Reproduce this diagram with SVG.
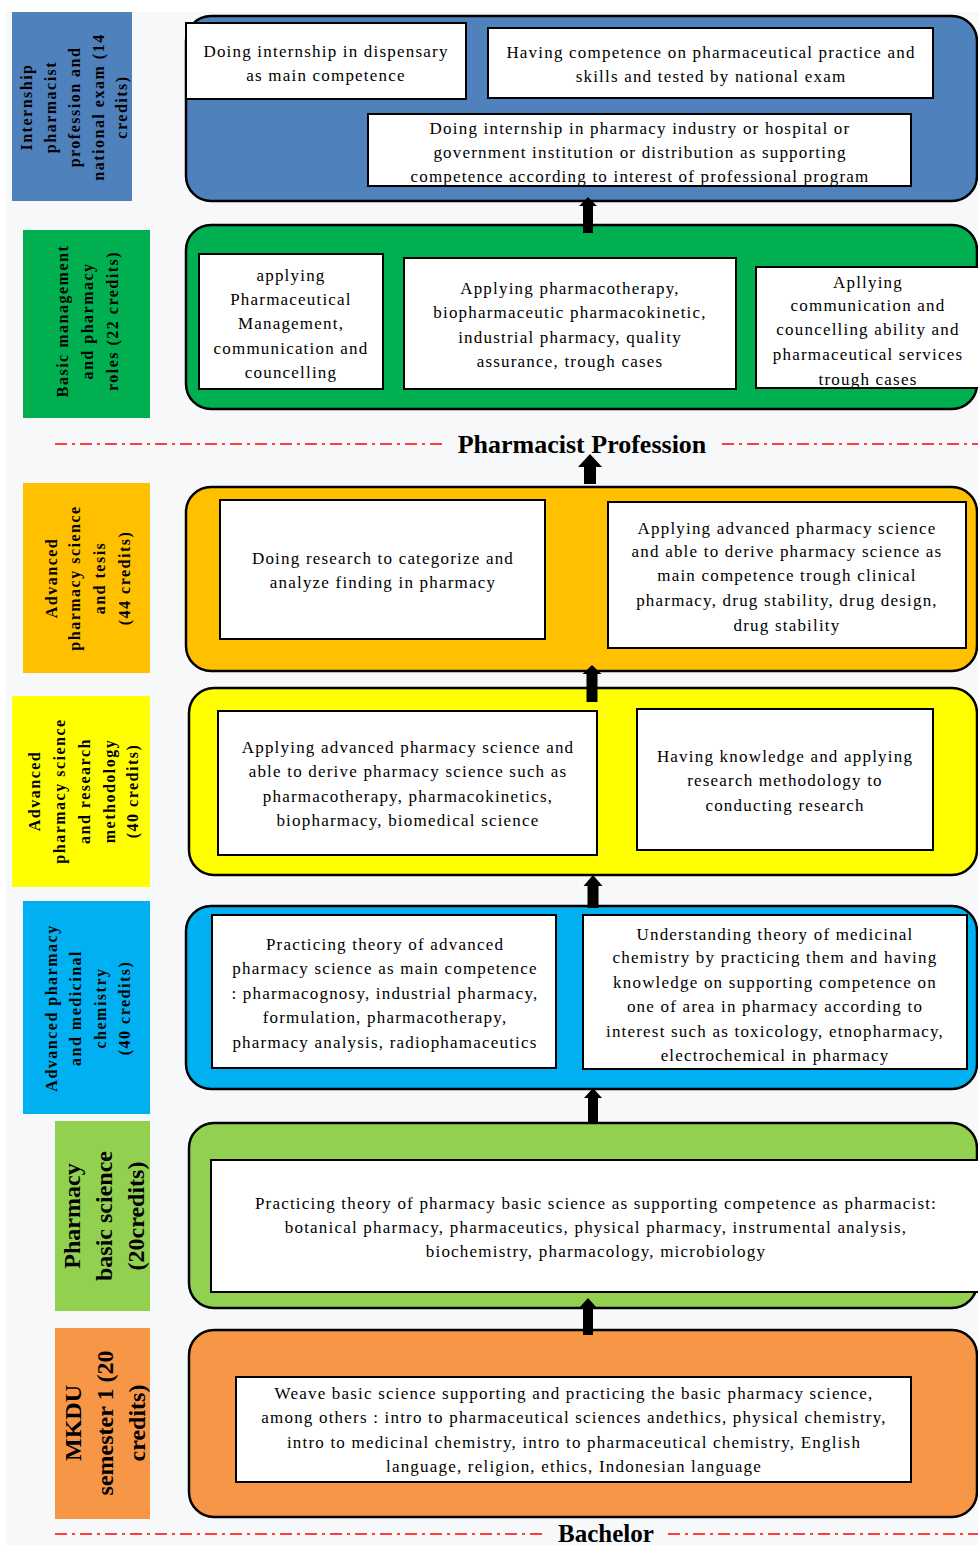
<svg xmlns="http://www.w3.org/2000/svg" width="978" height="1545" viewBox="0 0 978 1545">
<style>
.c{stroke:#000;stroke-width:2.5}
.b{fill:#fff;stroke:#000;stroke-width:2}
.t{font-family:"Liberation Serif",serif;font-size:17px;letter-spacing:1.2px;text-anchor:middle;fill:#000}
.l{font-family:"Liberation Serif",serif;font-weight:bold;font-size:16px;letter-spacing:1.5px;text-anchor:middle;fill:#000}
.L{font-family:"Liberation Serif",serif;font-weight:bold;font-size:24px;text-anchor:middle;fill:#000}
.h{font-family:"Liberation Serif",serif;font-weight:bold;font-size:26px;text-anchor:middle;fill:#000}
.d{stroke:#ff0000;stroke-width:1.5;stroke-dasharray:12 5 3 5;fill:none}
.a{fill:#000}
</style>
<rect x="0" y="0" width="978" height="1545" fill="#fff"/>
<rect x="6" y="12" width="972" height="1533" fill="#f7f8fa"/>

<g id="label-internship">
<rect x="12" y="12" width="120" height="189" fill="#4f81bd"/>
<g transform="translate(72,107) rotate(-90)"><text class="l" y="-40">Internship</text><text class="l" y="-16">pharmacist</text><text class="l" y="8">profession and</text><text class="l" y="32">national exam (14</text><text class="l" y="55">credits)</text></g>
</g>
<g id="label-basic-management">
<rect x="23" y="230" width="127" height="188" fill="#00b050"/>
<g transform="translate(86,321) rotate(-90)"><text class="l" y="-18">Basic  management</text><text class="l" y="7">and pharmacy</text><text class="l" y="32">roles (22 credits)</text></g>
</g>
<g id="label-advanced-tesis">
<rect x="23" y="483" width="127" height="190" fill="#ffc000"/>
<g transform="translate(86,578) rotate(-90)"><text class="l" y="-29">Advanced</text><text class="l" y="-6">pharmacy science</text><text class="l" y="19">and  tesis</text><text class="l" y="44">(44 credits)</text></g>
</g>
<g id="label-advanced-research">
<rect x="12" y="696" width="138" height="191" fill="#ffff00"/>
<g transform="translate(81,791) rotate(-90)"><text class="l" y="-41">Advanced</text><text class="l" y="-16">pharmacy science</text><text class="l" y="9">and research</text><text class="l" y="34">methodology</text><text class="l" y="57">(40 credits)</text></g>
</g>
<g id="label-advanced-medicinal">
<rect x="23" y="901" width="127" height="213" fill="#00b0f0"/>
<g transform="translate(86,1008) rotate(-90)"><text class="l" y="-29">Advanced pharmacy</text><text class="l" y="-5">and medicinal</text><text class="l" y="20">chemistry</text><text class="l" y="44">(40 credits)</text></g>
</g>
<g id="label-basic-science">
<rect x="55" y="1121" width="95" height="190" fill="#92d050"/>
<g transform="translate(102,1216) rotate(-90)"><text class="L" y="-22">Pharmacy</text><text class="L" y="10">basic science</text><text class="L" y="42">(20credits)</text></g>
</g>
<g id="label-mkdu">
<rect x="55" y="1328" width="95" height="191" fill="#f79646"/>
<g transform="translate(102,1423) rotate(-90)"><text class="L" y="-21">MKDU</text><text class="L" y="11">semester 1 (20</text><text class="L" y="43">credits)</text></g>
</g>

<g id="stage-internship">
<rect class="c" x="186" y="16" width="791" height="185" rx="25" fill="#4f81bd"/>
<rect class="b" x="186" y="23" width="280" height="76"/>
<text class="t" x="326" y="57">Doing internship in dispensary</text><text class="t" x="326" y="81">as main competence</text>
<rect class="b" x="488" y="28" width="445" height="70"/>
<text class="t" x="711" y="58">Having competence on pharmaceutical practice and</text><text class="t" x="711" y="82">skills and tested by national exam</text>
<rect class="b" x="368" y="114" width="543" height="72"/>
<text class="t" x="640" y="134">Doing internship in pharmacy industry or hospital or</text><text class="t" x="640" y="158">government institution or distribution as supporting</text><text class="t" x="640" y="182">competence according to interest of professional program</text>
</g>

<g id="stage-basic-management">
<rect class="c" x="186" y="225" width="791" height="184" rx="25" fill="#00b050"/>
<rect class="b" x="199" y="254" width="184" height="135"/>
<text class="t" x="291" y="281">applying</text><text class="t" x="291" y="305">Pharmaceutical</text><text class="t" x="291" y="329">Management,</text><text class="t" x="291" y="354">communication and</text><text class="t" x="291" y="378">councelling</text>
<rect class="b" x="404" y="258" width="332" height="131"/>
<text class="t" x="570" y="294">Applying pharmacotherapy,</text><text class="t" x="570" y="318">biopharmaceutic pharmacokinetic,</text><text class="t" x="570" y="343">industrial pharmacy, quality</text><text class="t" x="570" y="367">assurance, trough cases</text>
<rect class="b" x="756" y="267" width="240" height="121"/>
<text class="t" x="868" y="288">Apllying</text><text class="t" x="868" y="311">communication and</text><text class="t" x="868" y="335">councelling ability and</text><text class="t" x="868" y="360">pharmaceutical services</text><text class="t" x="868" y="385">trough cases</text>
</g>

<g id="stage-advanced-tesis">
<rect class="c" x="186" y="487" width="791" height="184" rx="25" fill="#ffc000"/>
<rect class="b" x="220" y="500" width="325" height="139"/>
<text class="t" x="383" y="564">Doing research to categorize and</text><text class="t" x="383" y="588">analyze finding in pharmacy</text>
<rect class="b" x="608" y="502" width="358" height="146"/>
<text class="t" x="787" y="534">Applying advanced pharmacy science</text><text class="t" x="787" y="557">and able to derive pharmacy science as</text><text class="t" x="787" y="581">main competence trough clinical</text><text class="t" x="787" y="606">pharmacy, drug stability, drug design,</text><text class="t" x="787" y="631">drug stability</text>
</g>

<g id="stage-advanced-research">
<rect class="c" x="189" y="688" width="788" height="187" rx="25" fill="#ffff00"/>
<rect class="b" x="218" y="711" width="379" height="144"/>
<text class="t" x="408" y="753">Applying advanced pharmacy science and</text><text class="t" x="408" y="777">able to derive pharmacy science such as</text><text class="t" x="408" y="802">pharmacotherapy, pharmacokinetics,</text><text class="t" x="408" y="826">biopharmacy, biomedical science</text>
<rect class="b" x="637" y="709" width="296" height="141"/>
<text class="t" x="785" y="762">Having knowledge and applying</text><text class="t" x="785" y="786">research methodology to</text><text class="t" x="785" y="811">conducting research</text>
</g>

<g id="stage-advanced-medicinal">
<rect class="c" x="186" y="906" width="791" height="183" rx="25" fill="#00b0f0"/>
<rect class="b" x="212" y="915" width="344" height="153"/>
<text class="t" x="385" y="950">Practicing theory of advanced</text><text class="t" x="385" y="974">pharmacy science  as main competence</text><text class="t" x="385" y="999">: pharmacognosy, industrial pharmacy,</text><text class="t" x="385" y="1023">formulation, pharmacotherapy,</text><text class="t" x="385" y="1048">pharmacy analysis, radiophamaceutics</text>
<rect class="b" x="583" y="915" width="384" height="154"/>
<text class="t" x="775" y="940">Understanding theory of  medicinal</text><text class="t" x="775" y="963">chemistry by practicing them and having</text><text class="t" x="775" y="988">knowledge on supporting competence on</text><text class="t" x="775" y="1012">one of area in pharmacy according to</text><text class="t" x="775" y="1037">interest such as toxicology, etnopharmacy,</text><text class="t" x="775" y="1061">electrochemical in pharmacy</text>
</g>

<g id="stage-basic-science">
<rect class="c" x="189" y="1123" width="788" height="185" rx="25" fill="#92d050"/>
<rect class="b" x="211" y="1160" width="790" height="132"/>
<text class="t" x="596" y="1209">Practicing theory of pharmacy basic science as supporting competence as pharmacist:</text><text class="t" x="596" y="1233">botanical pharmacy, pharmaceutics, physical pharmacy, instrumental analysis,</text><text class="t" x="596" y="1257">biochemistry, pharmacology, microbiology</text>
</g>

<g id="stage-mkdu">
<rect class="c" x="189" y="1330" width="788" height="187" rx="25" fill="#f79646"/>
<rect class="b" x="236" y="1377" width="675" height="105"/>
<text class="t" x="574" y="1399">Weave basic science supporting and practicing the basic pharmacy science,</text><text class="t" x="574" y="1423">among others : intro to pharmaceutical sciences andethics, physical chemistry,</text><text class="t" x="574" y="1448">intro to medicinal chemistry, intro to pharmaceutical chemistry, English</text><text class="t" x="574" y="1472">language, religion, ethics, Indonesian language</text>
</g>

<g id="divider-pharmacist">
<path class="d" d="M55 444H447M722 444H978"/>
<text class="h" x="582" y="453">Pharmacist Profession</text>
</g>
<g id="divider-bachelor">
<path class="d" d="M55 1534H547M668 1534H978"/>
<text class="h" x="606" y="1542" style="font-size:25px">Bachelor</text>
</g>

<g id="connectors">
<path class="a" d="M588 197L597 206L593 206L593 233L583 233L583 206L579 206Z"/>
<path class="a" d="M590 454L602 467L596 467L596 484L584 484L584 467L578 467Z"/>
<path class="a" d="M592 665L601.5 674L597.5 674L597.5 702L586.5 702L586.5 674L582.5 674Z"/>
<path class="a" d="M593 875L602.5 886L598.5 886L598.5 908L587.5 908L587.5 886L583.5 886Z"/>
<path class="a" d="M593 1088L602 1098L598 1098L598 1123L588 1123L588 1098L584 1098Z"/>
<path class="a" d="M588 1298L597 1308L593 1308L593 1335L583 1335L583 1308L579 1308Z"/>
</g>
</svg>
